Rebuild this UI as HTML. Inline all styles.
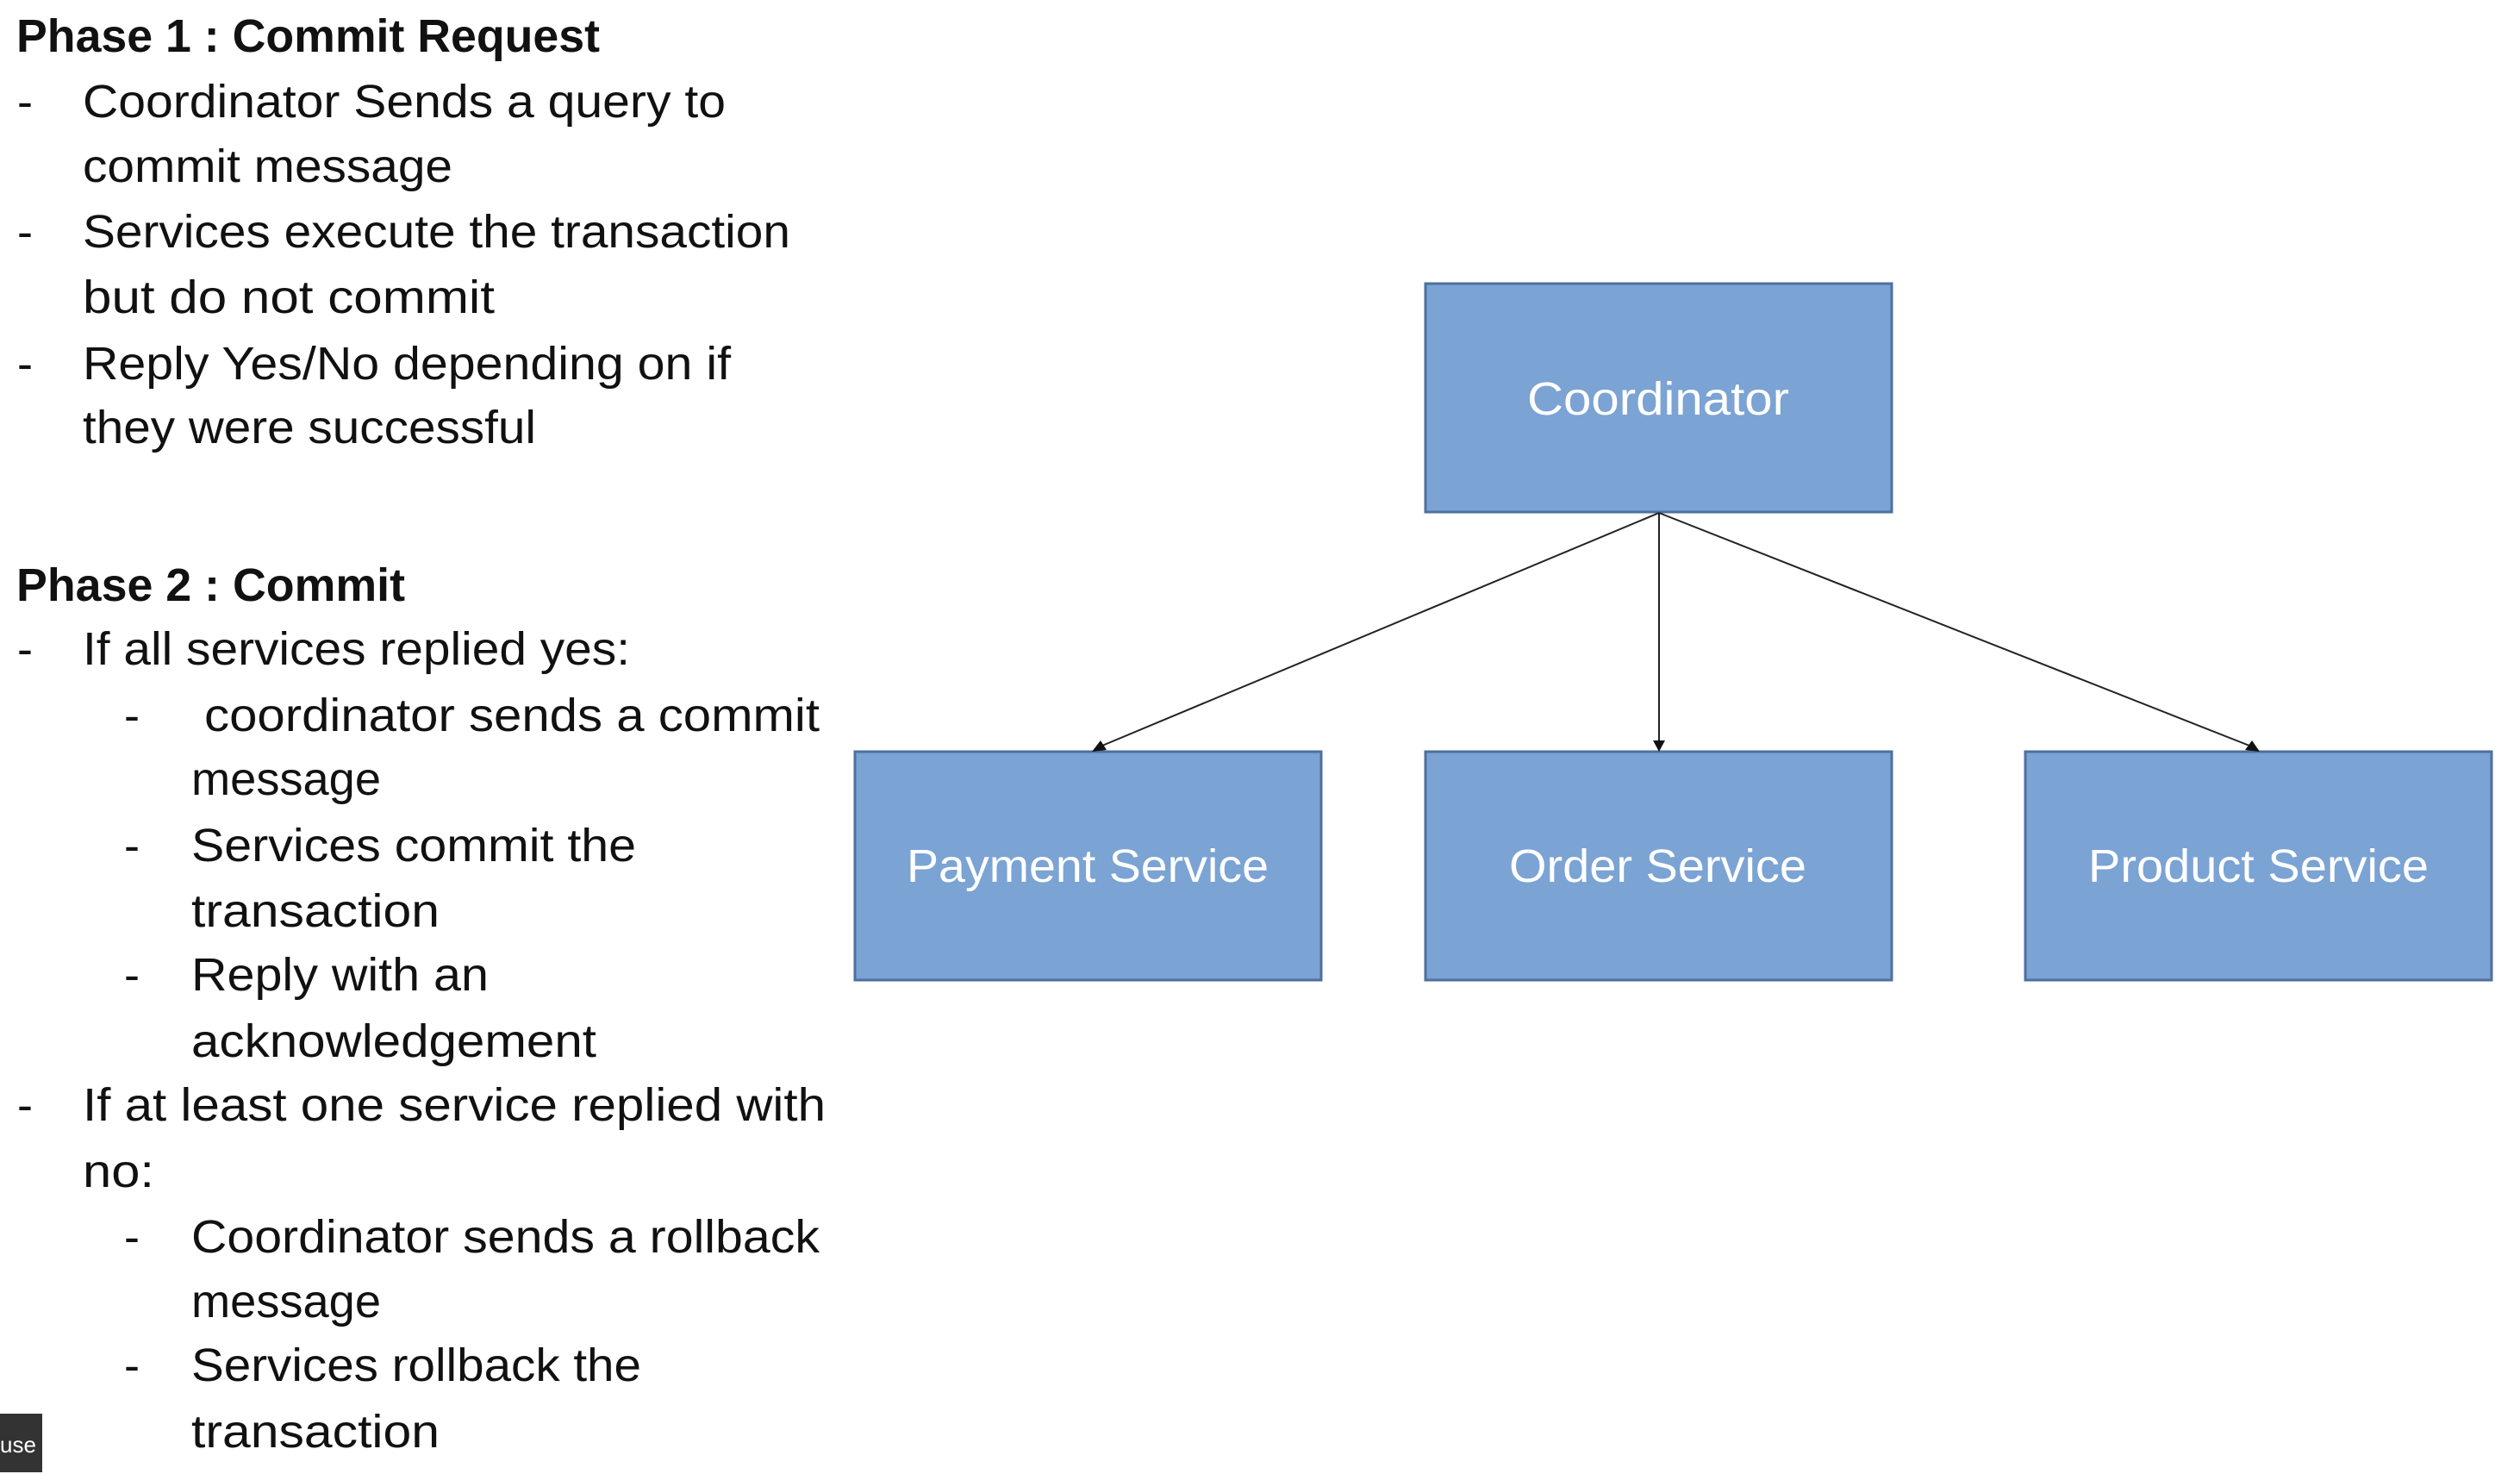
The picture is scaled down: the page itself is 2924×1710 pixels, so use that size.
<!DOCTYPE html>
<html><head><meta charset="utf-8"><style>
html,body{margin:0;padding:0;background:#fff;}
svg{display:block}
text{font-family:"Liberation Sans",sans-serif;}
</style></head><body>
<svg width="2924" height="1710" viewBox="0 0 2924 1710" xmlns="http://www.w3.org/2000/svg">
<rect width="2924" height="1710" fill="#fff"/>
<g font-size="54" fill="#111">
<text x="19" y="60" font-weight="bold" textLength="677" lengthAdjust="spacingAndGlyphs">Phase 1 : Commit Request</text>
<text x="20" y="136">-</text><text x="96" y="136" textLength="746" lengthAdjust="spacingAndGlyphs">Coordinator Sends a query to</text>
<text x="96" y="211" textLength="429" lengthAdjust="spacingAndGlyphs">commit message</text>
<text x="20" y="287">-</text><text x="96" y="287" textLength="821" lengthAdjust="spacingAndGlyphs">Services execute the transaction</text>
<text x="96" y="363" textLength="478" lengthAdjust="spacingAndGlyphs">but do not commit</text>
<text x="20" y="440">-</text><text x="96" y="440" textLength="752" lengthAdjust="spacingAndGlyphs">Reply Yes/No depending on if</text>
<text x="96" y="514" textLength="526" lengthAdjust="spacingAndGlyphs">they were successful</text>
<text x="19" y="697" font-weight="bold" textLength="451" lengthAdjust="spacingAndGlyphs">Phase 2 : Commit</text>
<text x="20" y="771">-</text><text x="96" y="771" textLength="635" lengthAdjust="spacingAndGlyphs">If all services replied yes:</text>
<text x="144" y="848">-</text><text x="237" y="848" textLength="714" lengthAdjust="spacingAndGlyphs">coordinator sends a commit</text>
<text x="222" y="922" textLength="220" lengthAdjust="spacingAndGlyphs">message</text>
<text x="144" y="999">-</text><text x="222" y="999" textLength="516" lengthAdjust="spacingAndGlyphs">Services commit the</text>
<text x="222" y="1075" textLength="288" lengthAdjust="spacingAndGlyphs">transaction</text>
<text x="144" y="1149">-</text><text x="222" y="1149" textLength="345" lengthAdjust="spacingAndGlyphs">Reply with an</text>
<text x="222" y="1226" textLength="470" lengthAdjust="spacingAndGlyphs">acknowledgement</text>
<text x="20" y="1300">-</text><text x="96" y="1300" textLength="862" lengthAdjust="spacingAndGlyphs">If at least one service replied with</text>
<text x="96" y="1377" textLength="83" lengthAdjust="spacingAndGlyphs">no:</text>
<text x="144" y="1453">-</text><text x="222" y="1453" textLength="729" lengthAdjust="spacingAndGlyphs">Coordinator sends a rollback</text>
<text x="222" y="1528" textLength="220" lengthAdjust="spacingAndGlyphs">message</text>
<text x="144" y="1602">-</text><text x="222" y="1602" textLength="522" lengthAdjust="spacingAndGlyphs">Services rollback the</text>
<text x="222" y="1679" textLength="288" lengthAdjust="spacingAndGlyphs">transaction</text>
</g>
<g fill="#7BA3D4" stroke="#4F6FA0" stroke-width="3">
<rect x="1654" y="329" width="541" height="265"/>
<rect x="992" y="872" width="541" height="265"/>
<rect x="1654" y="872" width="541" height="265"/>
<rect x="2350" y="872" width="541" height="265"/>
</g>
<g font-size="54" fill="#fff">
<text x="1772" y="481" textLength="304" lengthAdjust="spacingAndGlyphs">Coordinator</text>
<text x="1052" y="1023" textLength="420" lengthAdjust="spacingAndGlyphs">Payment Service</text>
<text x="1751" y="1023" textLength="345" lengthAdjust="spacingAndGlyphs">Order Service</text>
<text x="2423" y="1023" textLength="395" lengthAdjust="spacingAndGlyphs">Product Service</text>
</g>
<g stroke="#222" stroke-width="2" fill="none">
<line x1="1925" y1="595" x2="1279" y2="865"/>
<line x1="1925" y1="595" x2="1925" y2="861"/>
<line x1="1925" y1="595" x2="2610" y2="865"/>
</g>
<g fill="#111">
<polygon points="1267,872 1277,859 1284,870"/>
<polygon points="1918,859 1932,859 1925,872"/>
<polygon points="2622,872 2605,870 2613,859"/>
</g>
<rect x="0" y="1640" width="49" height="68" fill="#333"/>
<text x="0" y="1685" font-size="26" fill="#fff">use</text>
</svg>
</body></html>
